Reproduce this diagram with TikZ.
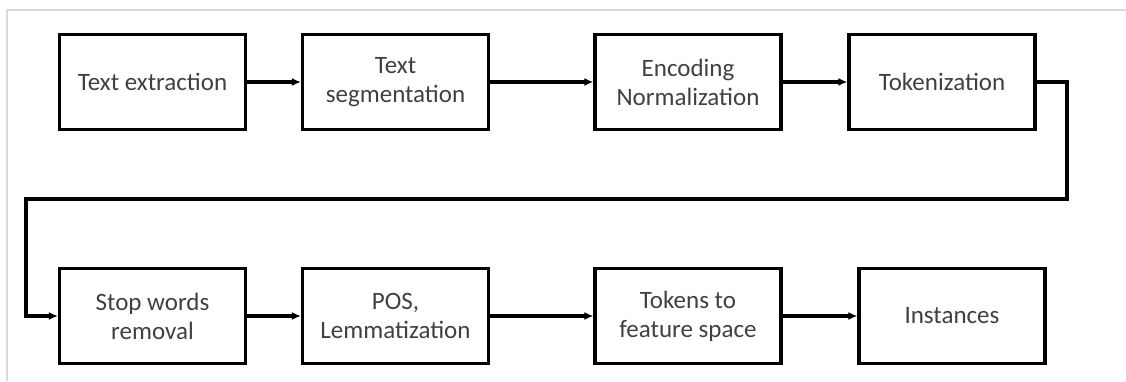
\documentclass[tikz,border=0pt]{standalone}
\usepackage{fontspec}
\setmainfont{Carlito}
\usetikzlibrary{arrows.meta}
\definecolor{txtgray}{HTML}{404040}
\definecolor{framegray}{HTML}{D9D9D9}
\begin{document}
\begin{tikzpicture}[x=1pt,y=-1pt,
  stepbox/.style={draw=black,line width=3.2pt,rectangle,minimum width=186pt,
    minimum height=95pt,inner sep=0pt,align=center,text=txtgray,
    font=\fontsize{25}{29}\selectfont},
  flow/.style={line width=3.2pt,-{Latex[length=9pt,width=8pt]}}]
\useasboundingbox (0,0) rectangle (1126,381);
% light frame around the figure
\draw[framegray,line width=1.2pt] (1126,10) -- (7,10) -- (7,381);
% first row
\node[stepbox] (n1) at (152.5,82) {Text extraction};
\node[stepbox] (n2) at (395.5,82) {Text\\segmentation};
\node[stepbox] (n3) at (688,82) {Encoding\\Normalization};
\node[stepbox] (n4) at (942,82) {Tokenization};
% second row
\node[stepbox] (n5) at (152.5,316) {Stop words\\removal};
\node[stepbox] (n6) at (395.5,316) {POS,\\Lemmatization};
\node[stepbox] (n7) at (688,316) {Tokens to\\feature space};
\node[stepbox] (n8) at (952,316) {Instances};
% bends of the wrap-around connector
\coordinate (turnR) at (1067,82);
\coordinate (turnL) at (26,199);
\draw[flow] (n1) -- (n2);
\draw[flow] (n2) -- (n3);
\draw[flow] (n3) -- (n4);
\draw[flow] (n4.east) -- (turnR) |- (turnL) |- (n5.west);
\draw[flow] (n5) -- (n6);
\draw[flow] (n6) -- (n7);
\draw[flow] (n7) -- (n8);
\end{tikzpicture}
\end{document}
